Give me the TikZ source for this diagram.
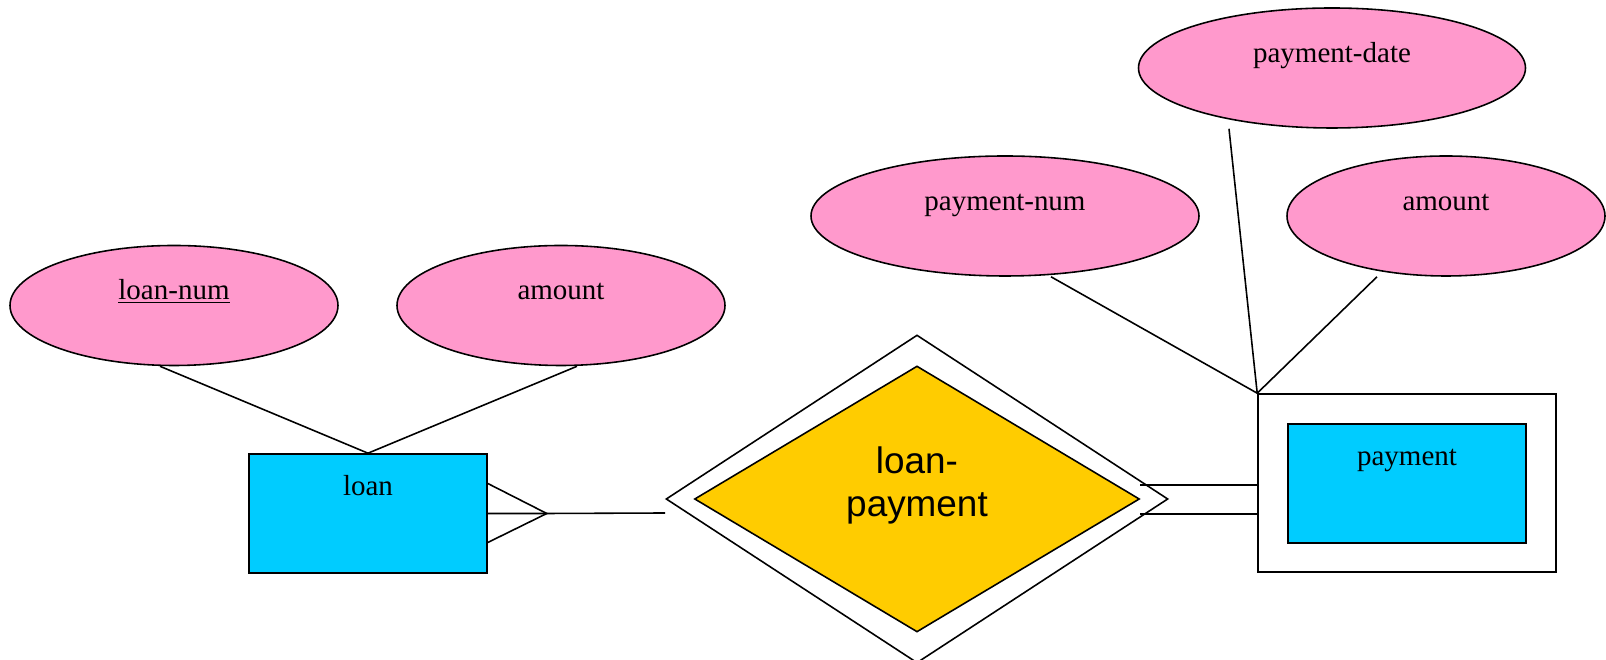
\documentclass[tikz,border=0pt]{standalone}
\usepackage{fontspec}
\setmainfont{Liberation Serif}
\setsansfont{Liberation Sans}
\usetikzlibrary{positioning,shapes,arrows,calc}

\definecolor{attrpink}{RGB}{255,153,204}
\definecolor{entblue}{RGB}{0,204,255}
\definecolor{relgold}{RGB}{255,204,0}

\tikzset{
	attr/.style={ellipse, draw, fill=attrpink, line width=0.9pt, inner sep=0pt, minimum width=6.56cm, minimum height=2.4cm, text height=0pt, text depth=6.8pt, font=\fontsize{16.5}{20}\selectfont},
	entity/.style={rectangle, draw, fill=entblue, line width=0.9pt, inner sep=0pt, minimum width=4.76cm, minimum height=2.38cm, text height=0pt, text depth=20pt, font=\fontsize{16.5}{20}\selectfont},
	relship/.style={diamond, draw, line width=0.9pt, inner sep=0pt},
	link/.style={line width=0.9pt}
}

\begin{document}
\begin{tikzpicture}
		\useasboundingbox (0,0) rectangle (32.12,13.2);
		
		% Loan entity (left)
		\node[entity] (loan) at (7.36,2.93) {loan};
		\node[attr] (lnum) at (3.48,7.09) {\underline{loan-num}};
		\node[attr] (lamt) at (11.22,7.09) {amount};
		\draw[link] ($(lnum.south)+(-0.28,0)$) -- (loan.north);
		\draw[link] ($(lamt.south)+(0.32,0)$) -- (loan.north);
		
		% Identifying relationship (double diamond)
		\node[relship, fill=white, minimum width=10.04cm, minimum height=6.56cm] (relout) at (18.34,3.22) {};
		\node[relship, fill=relgold, minimum width=8.9cm, minimum height=5.32cm,
			label={[font=\sffamily\fontsize{21}{24}\selectfont, align=center, yshift=0.27cm]center:loan-\\payment}] (rel) at (18.34,3.22) {};
		
		% Crow's foot from loan
		\coordinate (foot) at ($(loan.east)+(1.18,0)$);
		\coordinate (relin) at (13.3,2.94);
		\draw[link] ($(loan.east)+(0,0.6)$) -- (foot) -- ($(loan.east)+(0,-0.58)$);
		\draw[link] (loan.east) -- (foot) -- (relin);
		
		% Weak entity payment (right)
		\node[draw, line width=0.9pt, minimum width=5.96cm, minimum height=3.56cm] (wk) at (28.14,3.54) {};
		\node[entity] (pay) at (28.14,3.53) {payment};
		\coordinate (r1) at ($(rel.east)+(0,0.28)$);
		\coordinate (r2) at ($(rel.east)+(0,-0.3)$);
		\draw[link] (r1) -- (r1 -| wk.west);
		\draw[link] (r2) -- (r2 -| wk.west);
		
		% Payment attributes
		\node[attr, minimum width=7.76cm] (pnum) at (20.10,8.88) {payment-num};
		\node[attr, minimum width=7.74cm] (pdate) at (26.64,11.84) {payment-date};
		\node[attr, minimum width=6.36cm] (pamt) at (28.92,8.88) {amount};
		\draw[link] ($(pnum.south)+(0.92,0)$) -- (wk.north west);
		\draw[link] ($(pdate.south)+(-2.06,0)$) -- (wk.north west);
		\draw[link] ($(pamt.south)+(-1.38,0)$) -- (wk.north west);
	\end{tikzpicture}
\end{document}
